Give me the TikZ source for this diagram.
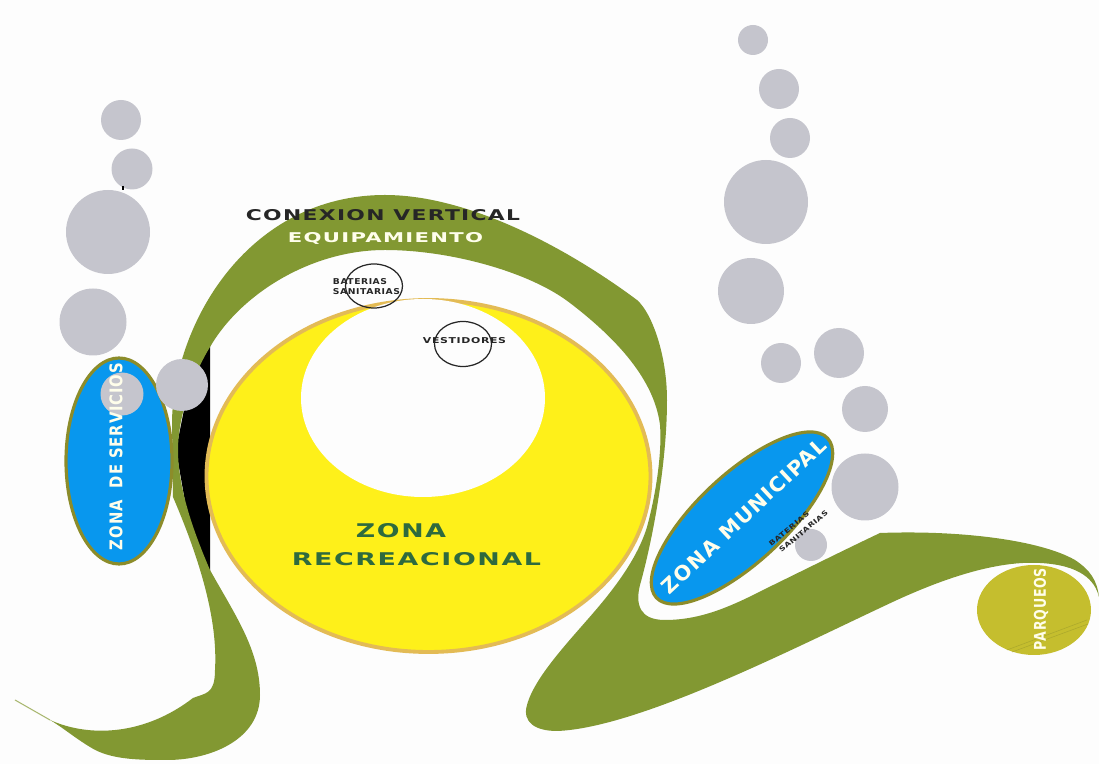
\documentclass[tikz,border=0pt]{standalone}
\usepackage{fontspec}
\usepackage{graphicx}
\usepackage{tikz}
\setmainfont[LetterSpace=6]{DejaVu Sans}
\definecolor{band}{HTML}{829832}
\definecolor{ball}{HTML}{C5C5CD}
\definecolor{water}{HTML}{0897EE}
\definecolor{sun}{HTML}{FEF01A}
\definecolor{sunrim}{HTML}{E3BB55}
\definecolor{rim}{HTML}{8C8C2A}
\definecolor{parking}{HTML}{C5BE2E}
\definecolor{deep}{HTML}{2E6A3E}
\definecolor{paper}{HTML}{FDFDFD}
\def\fit#1#2#3{\resizebox{#1cm}{#2cm}{#3}}
\def\leftballs{(121,120) circle(20) (132,169) circle(20.5) (108,232) circle(42) (93,322) circle(33.5)}
\def\rightballs{(753,40) circle(15) (779,89) circle(20) (790,138) circle(20) (766,202) circle(42) (751,291) circle(33) (781,363) circle(20) (839,353) circle(25) (865,409) circle(23) (865,487) circle(33.5)}
\def\sunzone{(428.5,476) circle[x radius=222, y radius=176]}
\def\holezone{(423,398) circle[x radius=122, y radius=99]}
\def\servicezone{(119,461) circle[x radius=53, y radius=103]}
\def\cityzone{(742,518) circle[x radius=117, y radius=44, rotate=43]}
\def\parkzone{(1034,610) circle[x radius=57, y radius=45]}

\begin{document}
\begin{tikzpicture}[x=0.01cm, y=-0.01cm, inner sep=0pt, font=\bfseries,
	ink/.style={text=black!85}, pale/.style={text=white!92!yellow}, ringline/.style={draw=black!85, line width=0.35pt}]
	\useasboundingbox (0,0) rectangle (1099,764);
	\fill[paper] (0,0) rectangle (1099,764);

	\fill[black] (210,345) -- (210,572) -- (190,530) -- (176,450) -- (190,380) -- cycle;

	\fill[band] (50,720) .. controls (90,738) and (145,735) .. (193,698)
		.. controls (205,693) and (215,695) .. (215,670)
		.. controls (218,620) and (200,560) .. (173,497)
		-- (172,420)
		.. controls (175,320) and (250,195) .. (385,195)
		.. controls (470,195) and (570,250) .. (637,300)
		.. controls (652,313) and (667,355) .. (667,400)
		.. controls (667,470) and (650,550) .. (640,585)
		.. controls (635,605) and (640,620) .. (665,620)
		.. controls (700,620) and (730,607) .. (763,590)
		.. controls (800,572) and (840,552) .. (880,533)
		.. controls (960,530) and (1040,540) .. (1075,560)
		.. controls (1090,570) and (1097,580) .. (1099,597)
		.. controls (1095,580) and (1080,565) .. (1040,563)
		.. controls (990,560) and (930,585) .. (897,600)
		.. controls (800,645) and (640,728) .. (557,731)
		.. controls (535,731) and (522,722) .. (527,705)
		.. controls (535,675) and (575,635) .. (600,605)
		.. controls (625,575) and (640,550) .. (647,527)
		.. controls (657,490) and (662,450) .. (660,425)
		.. controls (655,385) and (625,345) .. (570,303)
		.. controls (530,272) and (450,250) .. (385,250)
		.. controls (310,250) and (240,295) .. (210,347)
		.. controls (190,380) and (178,420) .. (178,450)
		.. controls (178,490) and (195,535) .. (210,570)
		.. controls (235,615) and (260,650) .. (260,695)
		.. controls (260,740) and (210,760) .. (167,760)
		.. controls (140,760) and (110,760) .. (90,747)
		.. controls (75,738) and (62,727) .. (50,720) -- cycle;
	\draw[band!70!white, line width=0.3pt] (15,700) -- (50,720);

	\filldraw[fill=sun, draw=sunrim, line width=1.1pt] \sunzone;
	\fill[paper] \holezone;

	\fill[ball] \leftballs;
	\fill[ball] \rightballs;
	\draw[black, line width=0.3pt] (123,186) -- (123,190);

	\filldraw[fill=water, draw=rim, line width=0.9pt] \servicezone;
	\fill[ball] (122,394) circle(21.5);
	\fill[ball] (182,385) circle(26);
	\filldraw[fill=water, draw=rim, line width=0.9pt] \cityzone;
	\fill[ball] (811,545) circle(16);
	\fill[parking] \parkzone;
	\draw[rim!45!parking, line width=0.15pt] (1007,650) -- (1087,620) (1012,652) -- (1088,624);

	\draw[ringline] (374,286) circle[x radius=28.5, y radius=22];
	\draw[ringline] (463,344) circle[x radius=28.5, y radius=22.5];

	\node[ink] (conexion) at (383,215.5) {\fit{2.74}{0.11}{CONEXION VERTICAL}};
	\node[pale] (equipamiento) at (385.5,238) {\fit{1.95}{0.10}{EQUIPAMIENTO}};
	\node[ink] (baterias) at (360,282) {\fit{0.54}{0.06}{BATERIAS}};
	\node[ink] (sanitarias) at (366.5,292) {\fit{0.67}{0.06}{SANITARIAS}};
	\node[ink] (vestidores) at (464.5,341) {\fit{0.83}{0.06}{VESTIDORES}};
	\node[text=deep] (zona) at (401,531) {\fit{0.90}{0.14}{ZONA}};
	\node[text=deep] (recreacional) at (416.5,559.5) {\fit{2.49}{0.13}{RECREACIONAL}};
	\node[pale, rotate=90] (servicios) at (116,456.5) {\fit{1.87}{0.13}{ZONA\ \ DE SERVICIOS}};
	\node[pale, rotate=43] (municipal) at (744,516) {\fit{2.16}{0.15}{ZONA MUNICIPAL}};
	\node[ink, rotate=40] (bateriasb) at (789,529) {\fit{0.50}{0.05}{BATERIAS}};
	\node[ink, rotate=40] (sanitariasb) at (803.5,531.5) {\fit{0.61}{0.05}{SANITARIAS}};
	\node[pale, rotate=90] (parqueos) at (1041,609) {\fit{0.82}{0.12}{PARQUEOS}};
\end{tikzpicture}
\end{document}
